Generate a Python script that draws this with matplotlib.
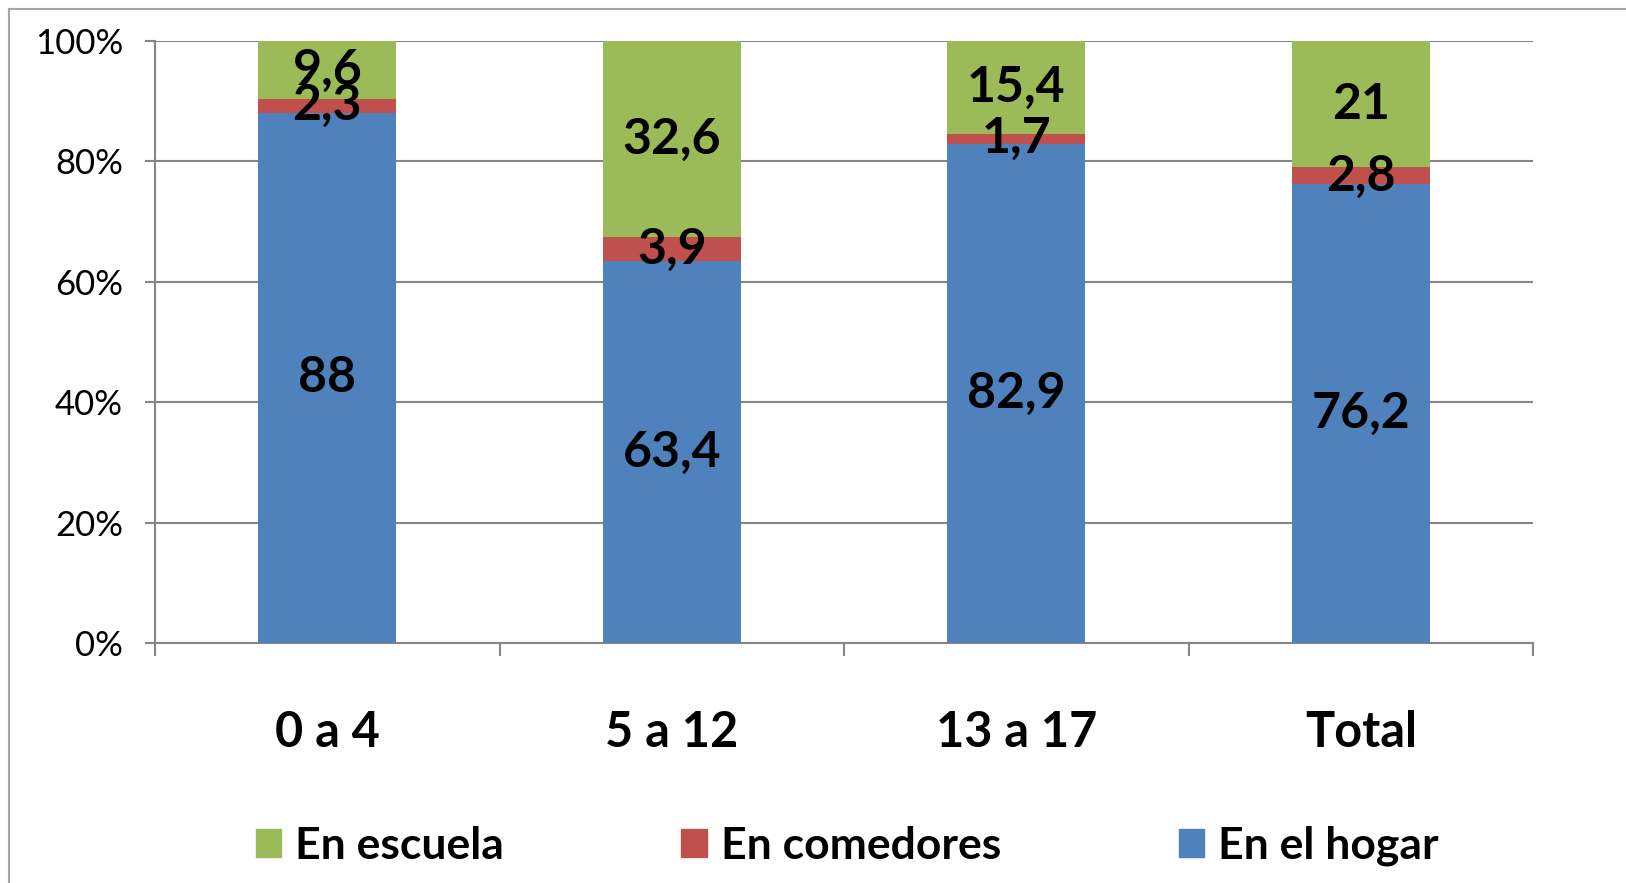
import matplotlib
matplotlib.use('Agg')
import matplotlib.pyplot as plt
from matplotlib.patches import Patch
from matplotlib.lines import Line2D

# Data (percent of children by where they eat)
categories = ['0 a 4', '5 a 12', '13 a 17', 'Total']
hogar = [88, 63.4, 82.9, 76.2]
comedores = [2.3, 3.9, 1.7, 2.8]
escuela = [9.6, 32.6, 15.4, 21]

series = [('En el hogar', hogar, '#4F81BD'),
          ('En comedores', comedores, '#C0504D'),
          ('En escuela', escuela, '#9BBB59')]

plt.rcParams['font.family'] = ['Lato', 'DejaVu Sans']
grey = '#868686'

fig = plt.figure(figsize=(16.26, 8.83), dpi=100)
ax = fig.add_axes([155 / 1626, 1 - 643 / 883, (1533 - 155) / 1626, (643 - 41) / 883])

# 100% stacked: normalise each column
totals = [h + c + e for h, c, e in zip(hogar, comedores, escuela)]
x = list(range(len(categories)))
bottom = [0.0] * len(categories)
for name, vals, color in series:
    pct = [v / t * 100 for v, t in zip(vals, totals)]
    ax.bar(x, pct, width=0.4, bottom=bottom, color=color, zorder=3)
    for xi, b, p, v in zip(x, bottom, pct, vals):
        label = ('%g' % v).replace('.', ',')
        ax.text(xi, b + p / 2, label, ha='center', va='center',
                fontsize=36, fontweight='bold', color='black', zorder=4)
    bottom = [b + p for b, p in zip(bottom, pct)]

ax.set_xlim(-0.5, len(categories) - 0.5)
ax.set_ylim(0, 100)
ax.set_yticks(range(0, 101, 20))
ax.set_yticklabels(['%d%%' % v for v in range(0, 101, 20)], fontsize=25)
ax.yaxis.grid(True, color=grey, linewidth=1.5, zorder=0)
ax.set_xticks(x)
ax.set_xticklabels(categories, fontsize=35, fontweight='bold')
ax.set_xticks([i - 0.5 for i in range(len(categories) + 1)], minor=True)
ax.tick_params(axis='x', which='major', length=0, pad=48)
ax.tick_params(axis='x', which='minor', length=9.5, width=1.5, color=grey, direction='out')
ax.tick_params(axis='y', length=7, width=1.5, color=grey, direction='out', pad=16)
for s in ['top', 'right']:
    ax.spines[s].set_visible(False)
for s in ['left', 'bottom']:
    ax.spines[s].set_color(grey)
    ax.spines[s].set_linewidth(1.5)

handles = [Patch(color=c, label=n) for n, _, c in series[::-1]]
fig.legend(handles=handles, loc='center', bbox_to_anchor=(847 / 1626, 1 - 846 / 883),
           ncol=3, frameon=False, prop={'size': 32, 'weight': 'bold'},
           handlelength=0.58, handleheight=0.58, handletextpad=0.3,
           columnspacing=4.0)

# outer chart frame (left and top edges visible)
fig.add_artist(Line2D([9 / 1626, 9 / 1626], [0, 1 - 9 / 883], color='#a6a6a6', linewidth=1.5))
fig.add_artist(Line2D([9 / 1626, 1], [1 - 9 / 883, 1 - 9 / 883], color='#a6a6a6', linewidth=1.5))

fig.savefig('out.png', dpi=100)
